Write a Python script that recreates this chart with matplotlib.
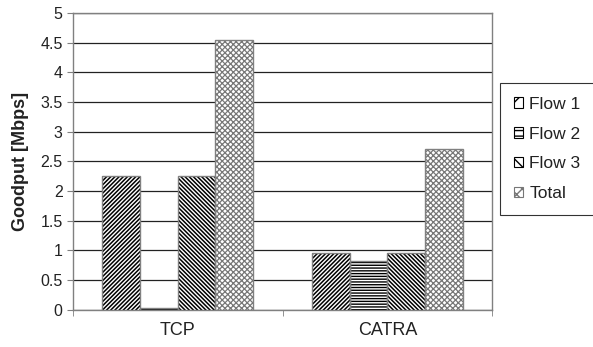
import numpy as np
import matplotlib
matplotlib.use("Agg")
import matplotlib.pyplot as plt
from matplotlib.patches import Patch

plt.rcParams['font.family'] = ['Liberation Sans', 'DejaVu Sans']

categories = ['TCP', 'CATRA']
series = ['Flow 1', 'Flow 2', 'Flow 3', 'Total']
flow1 = [2.25, 0.95]
flow2 = [0.02, 0.81]
flow3 = [2.25, 0.95]
total = [4.55, 2.70]

values = [flow1, flow2, flow3, total]
hatches = ['/' * 8, '-' * 6, '\\' * 8, 'x' * 6]
hatch_colors = ['black', 'black', 'black', '#777777']
hatch_widths = [1.1, 1.0, 1.1, 0.9]

fig = plt.figure(figsize=(5.93, 3.47), dpi=100)
ax = fig.add_axes([0.123, 0.108, 0.707, 0.855])

x = np.arange(len(categories))
width = 0.18
for i, (vals, h, hc, hw) in enumerate(zip(values, hatches, hatch_colors, hatch_widths)):
    pos = x + (i - 1.5) * width
    # hatched fill, then a grey outline on top
    with plt.rc_context({'hatch.linewidth': hw}):
        ax.bar(pos, vals, width, color='white', edgecolor=hc, hatch=h, linewidth=0, zorder=3)
    ax.bar(pos, vals, width, fill=False, edgecolor='#808080', linewidth=1.0, zorder=4)

ax.set_xlim(-0.5, 1.5)
ax.set_ylim(0, 5)
ax.set_yticks(np.arange(0, 5.01, 0.5))
ax.set_yticklabels(['0', '0.5', '1', '1.5', '2', '2.5', '3', '3.5', '4', '4.5', '5'])
ax.set_xticks(x)
ax.set_xticklabels(categories)
ax.set_xticks([-0.5, 0.5, 1.5], minor=True)
ax.tick_params(axis='x', which='major', length=0, pad=9, labelsize=13, colors='#222222')
ax.tick_params(axis='x', which='minor', length=4, color='#808080', direction='out')
ax.tick_params(axis='y', length=4, color='#808080', labelsize=11.5, labelcolor='#222222')
ax.yaxis.grid(True, color='#222222', linewidth=0.9, zorder=1)
ax.set_axisbelow(True)
for s in ax.spines.values():
    s.set_color('#808080')
    s.set_linewidth(1.0)

ax.set_ylabel('Goodput [Mbps]', fontsize=13, fontweight='bold', labelpad=8, color='#222222')

with plt.rc_context({'hatch.linewidth': 0.8}):
    handles = [Patch(facecolor='white', edgecolor=hc, hatch=h, linewidth=0.8)
               for h, hc in zip(['//', '---', '\\\\\\', 'xxx'], hatch_colors)]
leg = fig.legend(handles, series, loc='upper left', bbox_to_anchor=(0.843, 0.761),
                 fontsize=12.5, frameon=True, fancybox=False, handlelength=0.55,
                 handleheight=0.55, handletextpad=0.35, labelspacing=0.85,
                 borderpad=0.8, borderaxespad=0)
for t in leg.get_texts():
    t.set_color('#222222')
leg.get_frame().set_edgecolor('black')
leg.get_frame().set_linewidth(0.8)

fig.savefig('out.png', dpi=100)
